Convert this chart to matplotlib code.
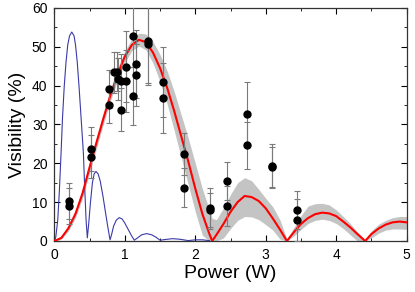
import matplotlib
matplotlib.use('Agg')
import matplotlib.pyplot as plt
from matplotlib.ticker import MultipleLocator

plt.rcParams['font.family'] = ['Liberation Sans', 'DejaVu Sans']

# model curve (red) and its uncertainty band (gray)
fit_p = [0, 0.1, 0.2, 0.3, 0.4, 0.5, 0.6, 0.7, 0.8, 0.9, 1.0, 1.1, 1.2, 1.3, 1.4,
         1.5, 1.6, 1.7, 1.8, 1.9, 2.0, 2.1, 2.2, 2.24, 2.3, 2.4, 2.5, 2.6, 2.7,
         2.8, 2.9, 3.0, 3.1, 3.2, 3.3, 3.4, 3.5, 3.6, 3.7, 3.8, 3.9, 4.0, 4.1,
         4.2, 4.3, 4.41, 4.5, 4.6, 4.7, 4.8, 4.9, 5.0]
fit_v = [0, 0.8, 3.3, 7.0, 12.3, 19.0, 25.5, 31.8, 37.8, 43.0, 47.5, 50.5, 51.8,
         51.2, 48.5, 44.5, 39.5, 33.5, 27.0, 20.5, 13.5, 7.0, 1.8, 0, 1.6, 4.4,
         7.5, 10.0, 11.6, 11.3, 10.3, 8.4, 5.8, 3.0, 0, 2.3, 4.4, 5.9, 6.9, 7.3,
         7.1, 6.4, 5.0, 3.5, 1.8, 0, 1.8, 3.2, 4.2, 4.8, 5.0, 4.8]
band_hi = [0, 1.1, 4.0, 8.0, 13.5, 20.3, 27.0, 33.3, 39.3, 44.5, 49.0, 52.0, 53.5,
           53.3, 51.3, 48.0, 43.8, 38.5, 32.5, 26.5, 20.0, 13.5, 8.0, 5.8, 5.5,
           8.5, 12.0, 15.0, 16.3, 15.5, 13.3, 11.0, 8.8, 5.5, 0.5, 3.5, 6.5, 9.0,
           9.6, 9.7, 9.3, 8.0, 6.3, 4.5, 2.3, 0.3, 2.6, 4.3, 5.3, 6.0, 6.3, 6.3]
band_lo = [0, 0.5, 2.6, 6.0, 11.0, 17.5, 24.0, 30.3, 36.3, 41.5, 46.0, 49.0, 50.2,
           49.2, 45.8, 41.0, 35.3, 28.5, 21.5, 14.5, 7.5, 1.5, 0, 0, 0, 0.8, 3.2,
           5.3, 6.3, 6.2, 5.5, 4.2, 2.8, 0.5, 0, 1.3, 3.0, 4.5, 5.3, 5.6, 5.3,
           4.5, 3.2, 1.6, 0, 0, 0.8, 2.0, 2.8, 3.1, 3.1, 3.0]

# thin blue curve
blue_p = [0, 0.02, 0.048, 0.07, 0.095, 0.115, 0.14, 0.165, 0.19, 0.215, 0.247,
          0.28, 0.30, 0.325, 0.35, 0.38, 0.412, 0.43, 0.45, 0.468, 0.49, 0.51,
          0.54, 0.565, 0.59, 0.62, 0.65, 0.69, 0.72, 0.755, 0.79, 0.81, 0.84,
          0.88, 0.92, 0.96, 1.0, 1.05, 1.1, 1.135, 1.18, 1.24, 1.31, 1.38, 1.44,
          1.5, 1.58, 1.68, 1.78, 1.9, 2.0, 2.1, 2.2]
blue_v = [0, 1.0, 5.4, 12.5, 22.6, 31.5, 39.8, 46.0, 50.5, 52.8, 53.8, 52.8, 50.5,
          46.0, 39.8, 31.5, 22.6, 14.0, 5.4, 0.8, 5.0, 9.5, 15.0, 17.3, 17.9,
          17.3, 15.5, 11.5, 8.0, 4.0, 0.3, 1.5, 3.8, 5.4, 6.0, 5.7, 4.6, 2.9, 1.2,
          0.2, 0.8, 1.6, 1.9, 1.6, 1.0, 0.2, 0.4, 0.6, 0.45, 0.1, 0.3, 0.3, 0.1]

# measured points
power = [0.21, 0.21, 0.515, 0.515, 0.77, 0.77, 0.85, 0.885, 0.90, 0.946, 0.946,
         1.017, 1.017, 1.12, 1.12, 1.155, 1.155, 1.325, 1.325, 1.546, 1.546,
         1.84, 1.84, 2.21, 2.21, 2.445, 2.445, 2.73, 2.73, 3.09, 3.09, 3.45, 3.45]
vis = [10.3, 9.0, 23.7, 21.7, 39.1, 35.1, 43.4, 43.6, 41.7, 41.1, 33.8,
       44.9, 41.1, 52.7, 37.4, 45.6, 42.8, 51.6, 50.8, 40.9, 36.8,
       22.4, 13.7, 8.4, 8.0, 15.5, 9.0, 32.6, 24.6, 19.3, 19.0, 8.0, 5.4]
vis_err = [4.6, 4.6, 5.6, 5.6, 4.8, 4.7, 5.2, 5.0, 5.5, 7.0, 5.6,
           9.1, 8.0, 8.0, 7.5, 8.7, 8.0, 11.5, 10.0, 9.0, 9.0,
           5.4, 5.0, 5.2, 4.3, 4.9, 5.1, 8.3, 6.1, 5.7, 5.2, 4.9, 5.4]

fig = plt.figure(figsize=(4.15, 2.92), dpi=100)
ax = fig.add_axes([0.131, 0.1747, 0.849, 0.798])

ax.fill_between(fit_p, band_lo, band_hi, color='#c4c4c4', lw=0, zorder=1)
ax.plot(blue_p, blue_v, color='#3a3aa8', lw=0.8, zorder=2)
ax.plot(fit_p, fit_v, color='red', lw=1.5, zorder=3)
ax.errorbar(power, vis, yerr=vis_err, fmt='o', color='black', ms=5,
            ecolor='#7a7a7a', elinewidth=0.8, capsize=2, capthick=0.8, zorder=4)

ax.set_xlim(0, 5)
ax.set_ylim(0, 60)
ax.xaxis.set_major_locator(MultipleLocator(1))
ax.xaxis.set_minor_locator(MultipleLocator(0.5))
ax.yaxis.set_major_locator(MultipleLocator(10))
ax.yaxis.set_minor_locator(MultipleLocator(5))
ax.tick_params(which='both', direction='in', top=True, right=True,
               labelsize=10, pad=5)
ax.tick_params(which='major', length=4)
ax.tick_params(which='minor', length=2)
for s in ax.spines.values():
    s.set_color('#333333')
    s.set_linewidth(0.9)

ax.set_xlabel('Power (W)', fontsize=14, labelpad=2)
ax.set_ylabel('Visibility (%)', fontsize=14, labelpad=4)

fig.savefig('out.png', dpi=100)
